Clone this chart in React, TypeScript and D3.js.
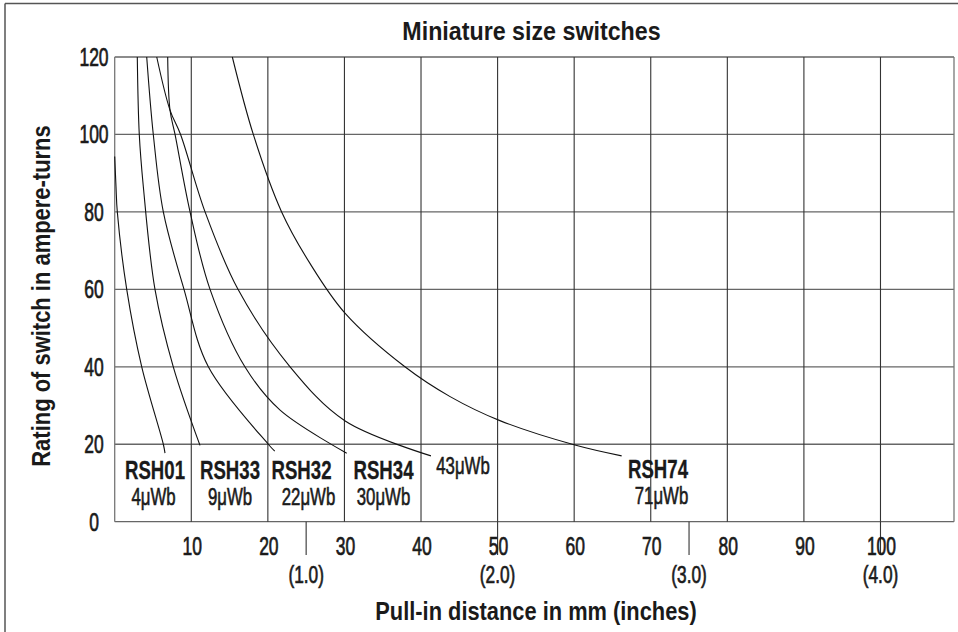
import React from "react";
import * as d3 from "d3";

// ---- data (pull-in distance in mm, rating in ampere-turns) ----
const RSH01: [number, number][] = [[0, 94.3], [0.17, 86.5], [0.34, 80], [1.57, 60], [3.53, 40], [6.35, 20], [6.57, 17.7]];
const RSH33: [number, number][] = [[2.95, 120], [3.21, 100], [3.74, 86.5], [5.26, 60], [7.65, 40], [11.14, 19.7]];
const RSH32: [number, number][] = [[4.18, 120], [5.04, 100], [6.35, 80], [9.05, 60], [12.23, 40], [20.06, 20], [20.9, 18.2]];
const RSH34: [number, number][] = [[6.92, 120], [7.22, 106.3], [7.88, 100], [9.84, 80], [12.45, 60], [17.0, 40], [21.6, 28.8], [30.3, 17.7]];
const RSH_43: [number, number][] = [[5.49, 120], [7.22, 106.3], [8.6, 100], [11.8, 80], [16.1, 60], [22.9, 40], [30.1, 26.0], [41.3, 17.0]];
const RSH74: [number, number][] = [[15.36, 120], [18.1, 100], [21.8, 80], [25.5, 66.7], [30.1, 53.8], [37.9, 40], [43.8, 32.3], [50.3, 26.1], [60.1, 19.8], [66.2, 17.0]];
const curves = [RSH01, RSH33, RSH32, RSH34, RSH_43, RSH74];

const switchNames = ["RSH01", "RSH33", "RSH32", "RSH34", "RSH74"];
const fluxLabels = ["4μWb", "9μWb", "22μWb", "30μWb", "43μWb", "71μWb"];

const yTicks = [0, 20, 40, 60, 80, 100, 120];
const xTicks = [10, 20, 30, 40, 50, 60, 70, 80, 90, 100];
const inchTicksMm = [25, 50, 75, 100];
const inchLabels = ["(1.0)", "(2.0)", "(3.0)", "(4.0)"];

const X_MAX = 109.6;
const Y_MAX = 120;

// ---- layout ----
const W = 958;
const H = 632;
const PL = 114.7, PR = 954, PT = 57, PB = 521.7;
const FONT = "'Liberation Sans', Arial, sans-serif";

// name label positions (px) and flux label positions (px)
const nameLayout = [[155, 479], [230, 479], [301.5, 479], [383.5, 479], [658, 478]];
const fluxLayout = [[153.5, 505], [230, 505], [308.5, 505], [383.5, 505], [463, 474], [661.5, 504]];

function T(props: { x: number; y: number; size: number; bold?: boolean; sx?: number; anchor?: string; rot?: number; thick?: number; children: React.ReactNode }) {
  const { x, y, size, bold, sx = 1, anchor = "middle", rot = 0, thick = 0, children } = props;
  return (
    <text
      transform={`translate(${x},${y}) rotate(${rot}) scale(${sx},1)`}
      fontSize={size}
      fontWeight={bold ? "bold" : "normal"}
      textAnchor={anchor as any}
      fontFamily={FONT}
      fill="#1a1a1a"
      stroke={thick > 0 ? "#1a1a1a" : "none"}
      strokeWidth={thick}
    >
      {children}
    </text>
  );
}

export default function App() {
  const x = d3.scaleLinear().domain([0, X_MAX]).range([PL, PR]);
  const y = d3.scaleLinear().domain([0, Y_MAX]).range([PB, PT]);
  const line = d3
    .line<[number, number]>()
    .x((d) => x(d[0]))
    .y((d) => y(d[1]))
    .curve(d3.curveCatmullRom.alpha(0.5));

  return (
    <svg width={W} height={H} style={{ position: "absolute", left: 0, top: 0, background: "#fff" }}>
      <rect x={0} y={0} width={W} height={H} fill="#fff" />
      {/* outer frame */}
      <line x1={5} y1={3.5} x2={W} y2={3.5} stroke="#555" strokeWidth={1.5} />
      <line x1={5} y1={3.5} x2={5} y2={H} stroke="#555" strokeWidth={1.5} />

      {/* horizontal grid */}
      {yTicks.map((t) => (
        <line key={"h" + t} x1={PL} x2={PR} y1={y(t)} y2={y(t)} stroke="#666" strokeWidth={1.3} />
      ))}
      {/* vertical grid */}
      {xTicks.map((t) => (
        <line key={"v" + t} x1={x(t)} x2={x(t)} y1={PT} y2={PB} stroke="#333" strokeWidth={1.1} />
      ))}
      <line x1={PL} x2={PL} y1={PT} y2={PB} stroke="#777" strokeWidth={1.3} />
      <line x1={PR} x2={PR} y1={PT} y2={PB} stroke="#777" strokeWidth={1.3} />
      {/* inch ticks */}
      {inchTicksMm.map((t) => (
        <line key={"i" + t} x1={x(t)} x2={x(t)} y1={PB} y2={555} stroke="#333" strokeWidth={1.1} />
      ))}

      {/* curves */}
      {curves.map((c, i) => (
        <path key={"c" + i} d={line(c) || ""} fill="none" stroke="#111" strokeWidth={1.1} />
      ))}

      {/* y tick labels */}
      {yTicks.map((t) => (
        <T key={"yl" + t} x={94} y={y(t) + 9} size={25} sx={0.7} thick={0.7}>{t}</T>
      ))}
      {/* x tick labels */}
      {xTicks.map((t) => (
        <T key={"xl" + t} x={x(t) + 1} y={555} size={25} sx={0.7} thick={0.7}>{t}</T>
      ))}
      {inchLabels.map((s, i) => (
        <T key={"il" + i} x={x(inchTicksMm[i])} y={583} size={24} sx={0.72} thick={0.7}>{s}</T>
      ))}

      {/* curve labels */}
      {switchNames.map((s, i) => (
        <T key={"n" + i} x={nameLayout[i][0]} y={nameLayout[i][1]} size={25} bold sx={0.745} thick={0.3}>{s}</T>
      ))}
      {fluxLabels.map((s, i) => (
        <T key={"f" + i} x={fluxLayout[i][0]} y={fluxLayout[i][1]} size={24} sx={0.7} thick={0.6}>{s}</T>
      ))}

      {/* titles */}
      <T x={531.5} y={40} size={25} bold sx={0.93}>Miniature size switches</T>
      <T x={536} y={620} size={26} bold sx={0.84}>Pull-in distance in mm (inches)</T>
      <T x={50} y={296} size={26} bold sx={0.845} rot={-90}>Rating of switch in ampere-turns</T>
    </svg>
  );
}
